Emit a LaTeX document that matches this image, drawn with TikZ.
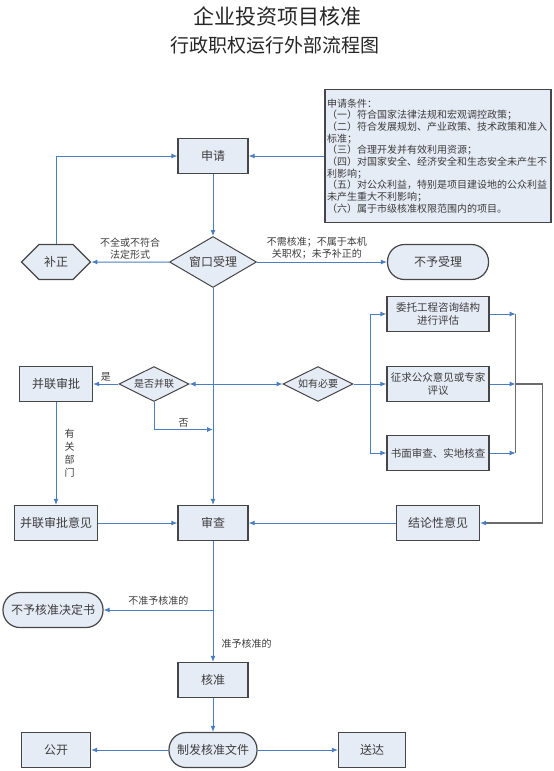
\documentclass[tikz,border=0pt]{standalone}
\usepackage{fontspec}
\setmainfont{Noto Sans CJK SC}
\usepackage{xcolor}
\usepackage{tikz}
\usetikzlibrary{arrows, arrows.meta, shapes, positioning}
\definecolor{boxfill}{RGB}{230, 236, 246}
\definecolor{boxline}{RGB}{70, 70, 70}
\definecolor{linkblue}{RGB}{74, 126, 193}
\definecolor{textgray}{RGB}{60, 60, 60}
\tikzset{
    boxnode/.style = {draw=boxline, fill=boxfill, rectangle, line width=1.2pt, inner sep=0em,
      node distance=0em, minimum width=70pt, minimum height=35pt, text=textgray,
      font=\fontsize{12}{14}\selectfont},
    smallbox/.style = {boxnode, minimum width=102pt, align=center, font=\fontsize{10.5}{13}\selectfont},
    roundnode/.style = {boxnode, rounded corners=17pt, minimum width=101pt},
    diamondnode/.style = {draw=boxline, fill=boxfill, diamond, aspect=1.7, line width=1pt, inner sep=0em,
      node distance=0em, minimum width=87pt, minimum height=51pt, text=textgray,
      font=\fontsize{12}{14}\selectfont},
    smalldiamond/.style = {diamondnode, minimum width=70pt, minimum height=35pt,
      font=\fontsize{10}{12}\selectfont},
    hexnode/.style = {boxnode, signal, signal to=west and east, minimum width=69pt},
    notenode/.style = {draw=boxline, fill=boxfill, rectangle, line width=1.2pt, inner xsep=2pt,
      node distance=0em, text width=222pt, minimum height=133pt, align=left, text=textgray,
      font=\fontsize{10}{11.7}\selectfont},
    titlenode/.style = {draw=none, fill=none, rectangle, inner sep=0em, text=black!85},
    edgelabel/.style = {draw=none, fill=none, inner sep=2pt, align=center, text=textgray,
      font=\fontsize{10}{12}\selectfont},
    tip/.style = {-{Latex[length=6pt, width=5pt]}},
    connect/.style = {linkblue, line width=1pt, tip},
    mergeline/.style = {boxline!80, line width=1.2pt}
}

\begin{document}
\begin{tikzpicture}[x=1pt, y=-1pt, node distance=0em]
\useasboundingbox (0,0) rectangle (554,771);
% title
\node [name=title, titlenode, font=\fontsize{21}{24}\selectfont] at (277,16) {企业投资项目核准};
\node [name=subtitle, titlenode, font=\fontsize{19}{22}\selectfont] at (275,45) {行政职权运行外部流程图};
% application and acceptance
\node [name=apply, boxnode] at (213,156) {申请};
\node [name=cond, notenode, right of = apply, xshift=225pt] {申请条件：\\
（一）符合国家法律法规和宏观调控政策；\\
（二）符合发展规划、产业政策、技术政策和准入\\
标准；\\
（三）合理开发并有效利用资源；\\
（四）对国家安全、经济安全和生态安全未产生不\\
利影响；\\
（五）对公众利益，特别是项目建设地的公众利益\\
未产生重大不利影响；\\
（六）属于市级核准权限范围内的项目。};
\node [name=accept, diamondnode, below of = apply, yshift=-106pt] {窗口受理};
\node [name=fix, hexnode, left of = accept, xshift=-157pt] {补正};
\node [name=reject, roundnode, right of = accept, xshift=225pt] {不予受理};
% review
\node [name=review, boxnode, below of = accept, yshift=-261pt] {审查};
\node [name=isparallel, smalldiamond, left of = review, xshift=-59pt, yshift=139pt] {是否并联};
\node [name=parallel, boxnode, minimum width=73pt, left of = isparallel, xshift=-98pt] {并联审批};
\node [name=needed, smalldiamond, right of = isparallel, xshift=164pt] {如有必要};
\node [name=solicit, smallbox, right of = needed, xshift=120pt] {征求公众意见或专家\\评议};
\node [name=entrust, smallbox, above of = solicit, yshift=70pt] {委托工程咨询结构\\进行评估};
\node [name=inspect, smallbox, below of = solicit, yshift=-69pt] {书面审查、实地核查};
\node [name=popinion, boxnode, minimum width=83pt, below of = parallel, yshift=-139pt] {并联审批意见};
\node [name=conclusion, boxnode, minimum width=83pt, below of = solicit, yshift=-139pt] {结论性意见};
% decision
\node [name=refusal, roundnode, minimum width=100pt, left of = review, xshift=-160pt, yshift=-87pt] {不予核准决定书};
\node [name=approve, boxnode, below of = review, yshift=-157pt] {核准};
\node [name=issue, roundnode, minimum width=88pt, below of = approve, yshift=-70pt] {制发核准文件};
\node [name=publish, boxnode, minimum width=69pt, left of = issue, xshift=-157pt] {公开};
\node [name=deliver, boxnode, minimum width=67pt, right of = issue, xshift=159pt] {送达};

\draw [connect] (apply) -- (accept);
\draw [connect] (cond) -- (apply);
\draw [connect] (accept) -- node[edgelabel, above] {不全或不符合\\法定形式} (fix);
\draw [connect] (fix.north) |- (apply.west);
\draw [connect] (accept) -- node[edgelabel, above, pos=0.46] {不需核准；不属于本机\\关职权；未予补正的} (reject);
\draw [connect] (accept) -- (review);
\draw [connect, {Latex[length=6pt, width=5pt]}-{Latex[length=6pt, width=5pt]}] (isparallel) -- (needed);
\draw [connect] (isparallel) -- node[edgelabel, above] {是} (parallel);
\path (isparallel.south) ++(0,27.5) coordinate (nojoin);
\draw [connect] (isparallel.south) |- node[edgelabel, above, pos=0.75] {否} (nojoin -| review.north);
\draw [connect] (parallel) -- node[edgelabel, right, xshift=6pt, font=\fontsize{10}{13}\selectfont] {有\\关\\部\\门} (popinion);
\draw [connect] (popinion) -- (review);
\draw [connect] (conclusion) -- (review);
% optional steps
\path (needed.east) ++(17,0) coordinate (split);
\draw [connect] (needed) -- (solicit);
\draw [connect] (split) |- (entrust.west);
\draw [connect] (split) |- (inspect.west);
\path (solicit.east) ++(26,0) coordinate (collect);
\path (collect) ++(27,0) coordinate (bend);
\draw [mergeline] (entrust.east -| collect) -- (inspect.east -| collect);
\draw [mergeline] (collect) -- (bend) |- ([xshift=6pt]conclusion.east);
\draw [connect] ([xshift=6pt]conclusion.east) -- (conclusion.east);
\draw [connect] (entrust.east) -- (entrust.east -| collect);
\draw [connect] (solicit.east) -- (collect);
\draw [connect] (inspect.east) -- (inspect.east -| collect);
% outcome
\draw [connect] (review) -- node[edgelabel, right, pos=0.85, xshift=6pt] {准予核准的} (approve);
\draw [connect] (review.south |- refusal.east) -- node[edgelabel, above, inner sep=4pt] {不准予核准的} (refusal.east);
\draw [connect] (approve) -- (issue);
\draw [connect] (issue) -- (publish);
\draw [connect] (issue) -- (deliver);
\end{tikzpicture}
\end{document}
